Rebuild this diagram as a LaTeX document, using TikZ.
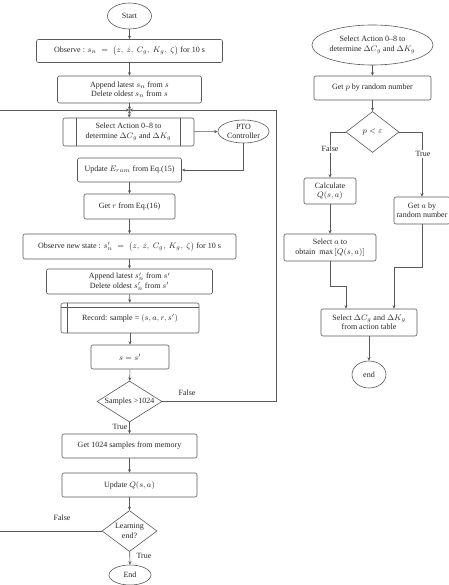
\documentclass[tikz,border=0pt]{standalone}
\usepackage{amsmath}
\usepackage{fontspec}
\setmainfont{Liberation Serif}
\usepackage{tikz}
\usetikzlibrary{positioning, calc}
\usetikzlibrary{arrows.meta}
\usetikzlibrary{shapes}

\begin{document}
\begin{tikzpicture}[x=1pt,y=-1pt,line width=0.6pt,text=black!85,font=\fontsize{8}{9.5}\selectfont]
	\def \colL{129.5}
	\def \colR{372.5}
	\tikzstyle{p-node}=[rectangle,rounded corners=2pt,draw=black!65,align=center,inner sep=0pt]
	\tikzstyle{t-node}=[ellipse,draw=black!65,align=center,inner sep=0pt]
	\tikzstyle{d-node}=[diamond,draw=black!65,align=center,inner sep=0pt]
	\tikzstyle{annot}=[inner sep=1pt]
	\tikzstyle{link}=[draw=black!65]
	\tikzstyle{flow}=[link,-{Stealth[length=3.5pt,width=3pt]}]
	\useasboundingbox (0,0) rectangle (448,585);

	% training loop
	\node[t-node,minimum width=44,minimum height=26] (start) at (\colL,16) {Start};
	\node[p-node,minimum width=186,minimum height=23] (obs) at (\colL,51) {Observe : $s_n\;=\;\bigl(z,\ \dot{z},\ C_g,\ K_g,\ \zeta\bigr)$ for 10 s};
	\node[p-node,minimum width=144,minimum height=27] (app) at (\colL,89.5) {Append latest $s_n$ from $s$\\Delete oldest $s_n$ from $s$};
	\coordinate (merge) at (\colL,110);
	\node[p-node,minimum width=131,minimum height=28] (act) at (128.5,132) {Select Action 0--8 to\\determine $\Delta C_g$ and $\Delta K_g$};
	\node[t-node,minimum width=51,minimum height=23] (pto) at (243.5,131.5) {PTO\\Controller};
	\node[p-node,minimum width=104,minimum height=24] (eram) at (\colL,170) {Update $E_{ram}$ from Eq.(15)};
	\node[p-node,minimum width=91,minimum height=25] (rew) at (\colL,206.5) {Get $r$ from Eq.(16)};
	\node[p-node,minimum width=213,minimum height=25] (obsn) at (\colL,246.5) {Observe new state : $s'_n\;=\;\bigl(z,\ \dot{z},\ C_g,\ K_g,\ \zeta\bigr)$ for 10 s};
	\node[p-node,minimum width=166,minimum height=25] (appn) at (\colL,281.5) {Append latest $s'_n$ from $s'$\\Delete oldest $s'_n$ from $s'$};
	\node[p-node,minimum width=138,minimum height=30] (rec) at (130,318) {Record: sample = $(s, a, r, s')$};
	\node[p-node,minimum width=78,minimum height=24] (upd) at (130,357) {$s = s'$};
	\node[d-node,aspect=1.6,minimum width=65,minimum height=41] (smp) at (\colL,401.5) {Samples >1024};
	\node[p-node,minimum width=135,minimum height=24] (mem) at (\colL,446) {Get 1024 samples from memory};
	\node[p-node,minimum width=135,minimum height=24] (updq) at (\colL,485) {Update $Q(s, a)$};
	\node[d-node,aspect=1.4,minimum width=55,minimum height=41] (lrn) at (\colL,531) {Learning\\end?};
	\node[t-node,minimum width=42,minimum height=20] (stop) at (130,575) {End};

	% inner bars of the process boxes
	\draw[link] ([xshift=14]act.north west) -- ([xshift=14]act.south west);
	\draw[link] ([xshift=-14]act.north east) -- ([xshift=-14]act.south east);
	\draw[link] ([xshift=7]rec.north west) -- ([xshift=7]rec.south west);
	\draw[link] ([yshift=-5]rec.north west) -- ([yshift=-5]rec.north east);

	% action selection
	\node[t-node,minimum width=97,minimum height=40] (ract) at (\colR,45) {Select Action 0--8 to\\determine $\Delta C_g$ and $\Delta K_g$};
	\node[p-node,minimum width=117,minimum height=24] (getp) at (\colR,88) {Get $p$ by random number};
	\node[d-node,aspect=1.3,minimum width=53,minimum height=41] (pchk) at (\colR,132) {$p < \varepsilon$};
	\node[p-node,minimum width=52,minimum height=26] (calq) at (330,191) {Calculate\\$Q(s, a)$};
	\node[p-node,minimum width=56,minimum height=27] (rnda) at (422,210.5) {Get $a$ by\\random number};
	\node[p-node,minimum width=92,minimum height=27] (maxa) at (330,247.5) {Select $a$ to\\obtain\ \ $\max\,[Q(s, a)]$};
	\node[p-node,minimum width=96,minimum height=27] (tab) at (369,322.5) {Select $\Delta C_g$ and $\Delta K_g$\\from action table};
	\node[t-node,minimum width=34,minimum height=27] (rend) at (369,374.5) {end};

	% loop ends
	\coordinate (loopr) at (276,110);
	\coordinate (lin) at (0,110);
	\coordinate (lout) at (0,531);
	\coordinate (jl) at (346,286);
	\coordinate (jr) at (394,267);

	\path[flow]
		(start)	edge	(obs)
		(obs)	edge	(app)
		(app)	edge	(merge)
		(merge)	edge	(act)
		(act)	edge	(pto)
		(eram)	edge	(rew)
		(rew)	edge	(obsn)
		(obsn)	edge	(appn)
		(appn)	edge	(rec)
		(rec)	edge	(upd)
		(upd)	edge	(smp)
		(smp)	edge	(mem)
		(mem)	edge	(updq)
		(updq)	edge	(lrn)
		(lrn)	edge	(stop)
		%
		(ract)	edge	(getp)
		(getp)	edge	(pchk)
		(calq)	edge	(maxa)
		(tab)	edge	(rend);
	\draw[flow] (pto) |- (eram);
	\draw[flow] (smp.east) -| (loopr) -- (merge);
	\draw[link] (lrn.west) -- (lout);
	\draw[flow] (lin) -- (merge);
	\draw[flow] (pchk.west) -| (calq);
	\draw[flow] (pchk.east) -| (rnda);
	\draw[flow] (maxa) |- (jl) -- (jl |- tab.north);
	\draw[flow] (rnda) |- (jr) -- (jr |- tab.north);

	% branch labels
	\node[annot] at (187,393) {False};
	\node[annot] at (120,427) {True};
	\node[annot] at (62,518) {False};
	\node[annot] at (144,556) {True};
	\node[annot,fill=white] at (330,149) {False};
	\node[annot,fill=white] at (423,154) {True};
\end{tikzpicture}
\end{document}
